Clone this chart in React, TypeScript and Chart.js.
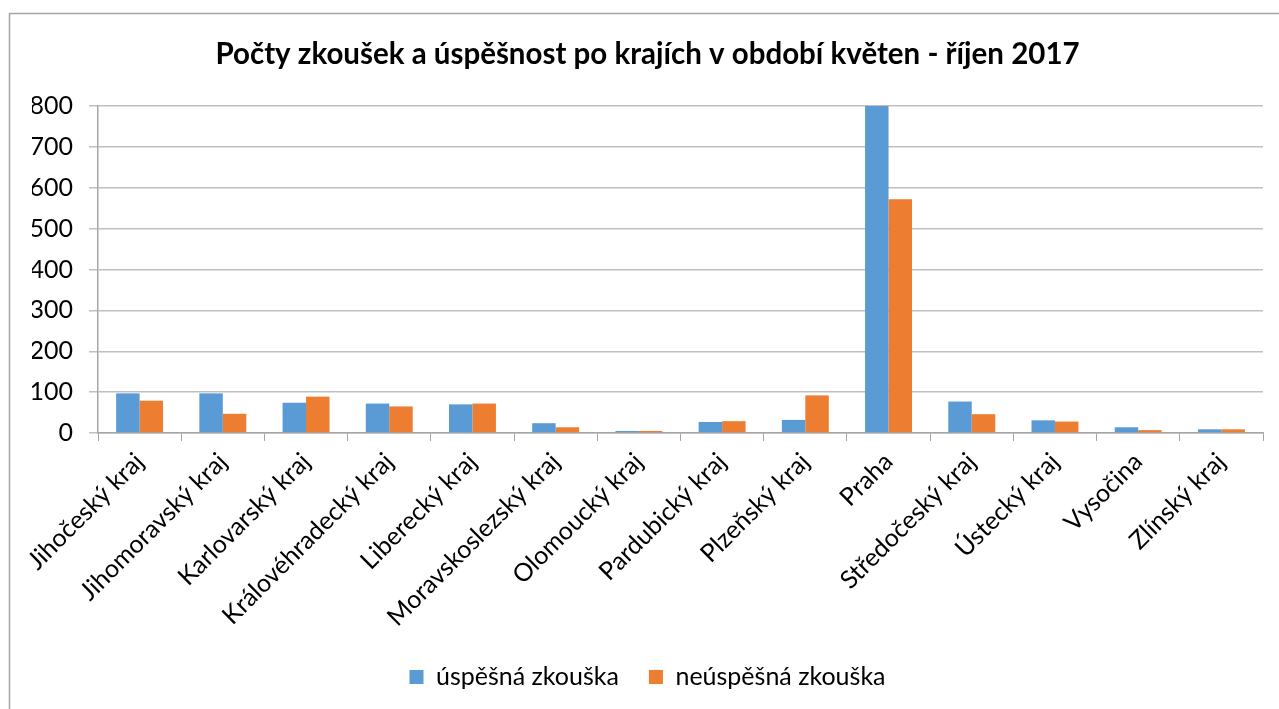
import React, { useEffect, useRef } from "react";
import { Chart, registerables } from "chart.js";

Chart.register(...registerables);

const TITLE = "Počty zkoušek a úspěšnost po krajích v období květen - říjen 2017";
const CATEGORIES = [
  "Jihočeský kraj",
  "Jihomoravský kraj",
  "Karlovarský kraj",
  "Královéhradecký kraj",
  "Liberecký kraj",
  "Moravskoslezský kraj",
  "Olomoucký kraj",
  "Pardubický kraj",
  "Plzeňský kraj",
  "Praha",
  "Středočeský kraj",
  "Ústecký kraj",
  "Vysočina",
  "Zlínský kraj",
];
const SERIES_NAMES = ["úspěšná zkouška", "neúspěšná zkouška"];
const SUCCESS = [97, 97, 74, 72, 70, 24, 5, 27, 32, 800, 77, 31, 14, 9];
const FAIL = [79, 47, 89, 65, 72, 14, 5, 29, 92, 572, 46, 28, 7, 9];
const Y_MIN = 0;
const Y_MAX = 800;
const Y_STEP = 100;

const FONT = "Lato, 'Open Sans', sans-serif";

const framePlugin = {
  id: "frame",
  beforeDraw(chart: any) {
    const ctx = chart.ctx;
    ctx.save();
    ctx.fillStyle = "#ffffff";
    ctx.fillRect(0, 0, chart.width, chart.height);
    ctx.strokeStyle = "#a6a6a6";
    ctx.lineWidth = 1.5;
    ctx.beginPath();
    ctx.moveTo(9.5, chart.height);
    ctx.lineTo(9.5, 13.5);
    ctx.lineTo(chart.width, 13.5);
    ctx.stroke();
    ctx.restore();
  },
};

export default function App() {
  const ref = useRef<HTMLCanvasElement | null>(null);
  useEffect(() => {
    if (!ref.current) return;
    const chart = new Chart(ref.current, {
      type: "bar",
      data: {
        labels: CATEGORIES,
        datasets: [
          {
            label: SERIES_NAMES[0],
            data: SUCCESS,
            backgroundColor: "#5B9BD5",
            borderWidth: 0,
            categoryPercentage: 0.564,
            barPercentage: 1,
          },
          {
            label: SERIES_NAMES[1],
            data: FAIL,
            backgroundColor: "#ED7D31",
            borderWidth: 0,
            categoryPercentage: 0.564,
            barPercentage: 1,
          },
        ],
      },
      options: {
        responsive: false,
        animation: false,
        layout: { padding: { left: 32, right: 16, top: 13, bottom: 9.5 } },
        plugins: {
          tooltip: { enabled: false },
          title: {
            display: true,
            text: TITLE,
            color: "#000000",
            font: { family: FONT, size: 29.5, weight: "bold", lineHeight: 1.2 },
            padding: { top: 23.3, bottom: 34.3 },
          },
          legend: {
            position: "bottom",
            labels: {
              color: "#000000",
              font: { family: FONT, size: 25 },
              boxWidth: 14,
              boxHeight: 14,
              padding: 30,
            },
          },
        },
        scales: {
          x: {
            afterFit(scale: any) {
              scale.height = 201.5;
            },
            grid: {
              offset: true,
              drawOnChartArea: false,
              drawTicks: true,
              tickLength: 8,
              color: "#a6a6a6",
            },
            border: { color: "#a6a6a6", width: 1.5 },
            ticks: {
              color: "#000000",
              font: { family: FONT, size: 25 },
              maxRotation: 45,
              minRotation: 45,
              autoSkip: false,
              padding: 6,
            },
          },
          y: {
            min: Y_MIN,
            max: Y_MAX,
            afterFit(scale: any) {
              scale.width = 66;
            },
            grid: {
              color: "#bfbfbf",
              lineWidth: 1.5,
              tickLength: 9,
              drawTicks: true,
            },
            border: { color: "#a6a6a6", width: 1.5 },
            ticks: {
              stepSize: Y_STEP,
              color: "#000000",
              font: { family: FONT, size: 25 },
              padding: 16,
            },
          },
        },
      },
      plugins: [framePlugin],
    });
    return () => chart.destroy();
  }, []);
  return (
    <div style={{ position: "absolute", left: 0, top: 0, width: 1279, height: 709 }}>
      <canvas ref={ref} width={1279} height={709} style={{ width: 1279, height: 709, display: "block" }} />
    </div>
  );
}
